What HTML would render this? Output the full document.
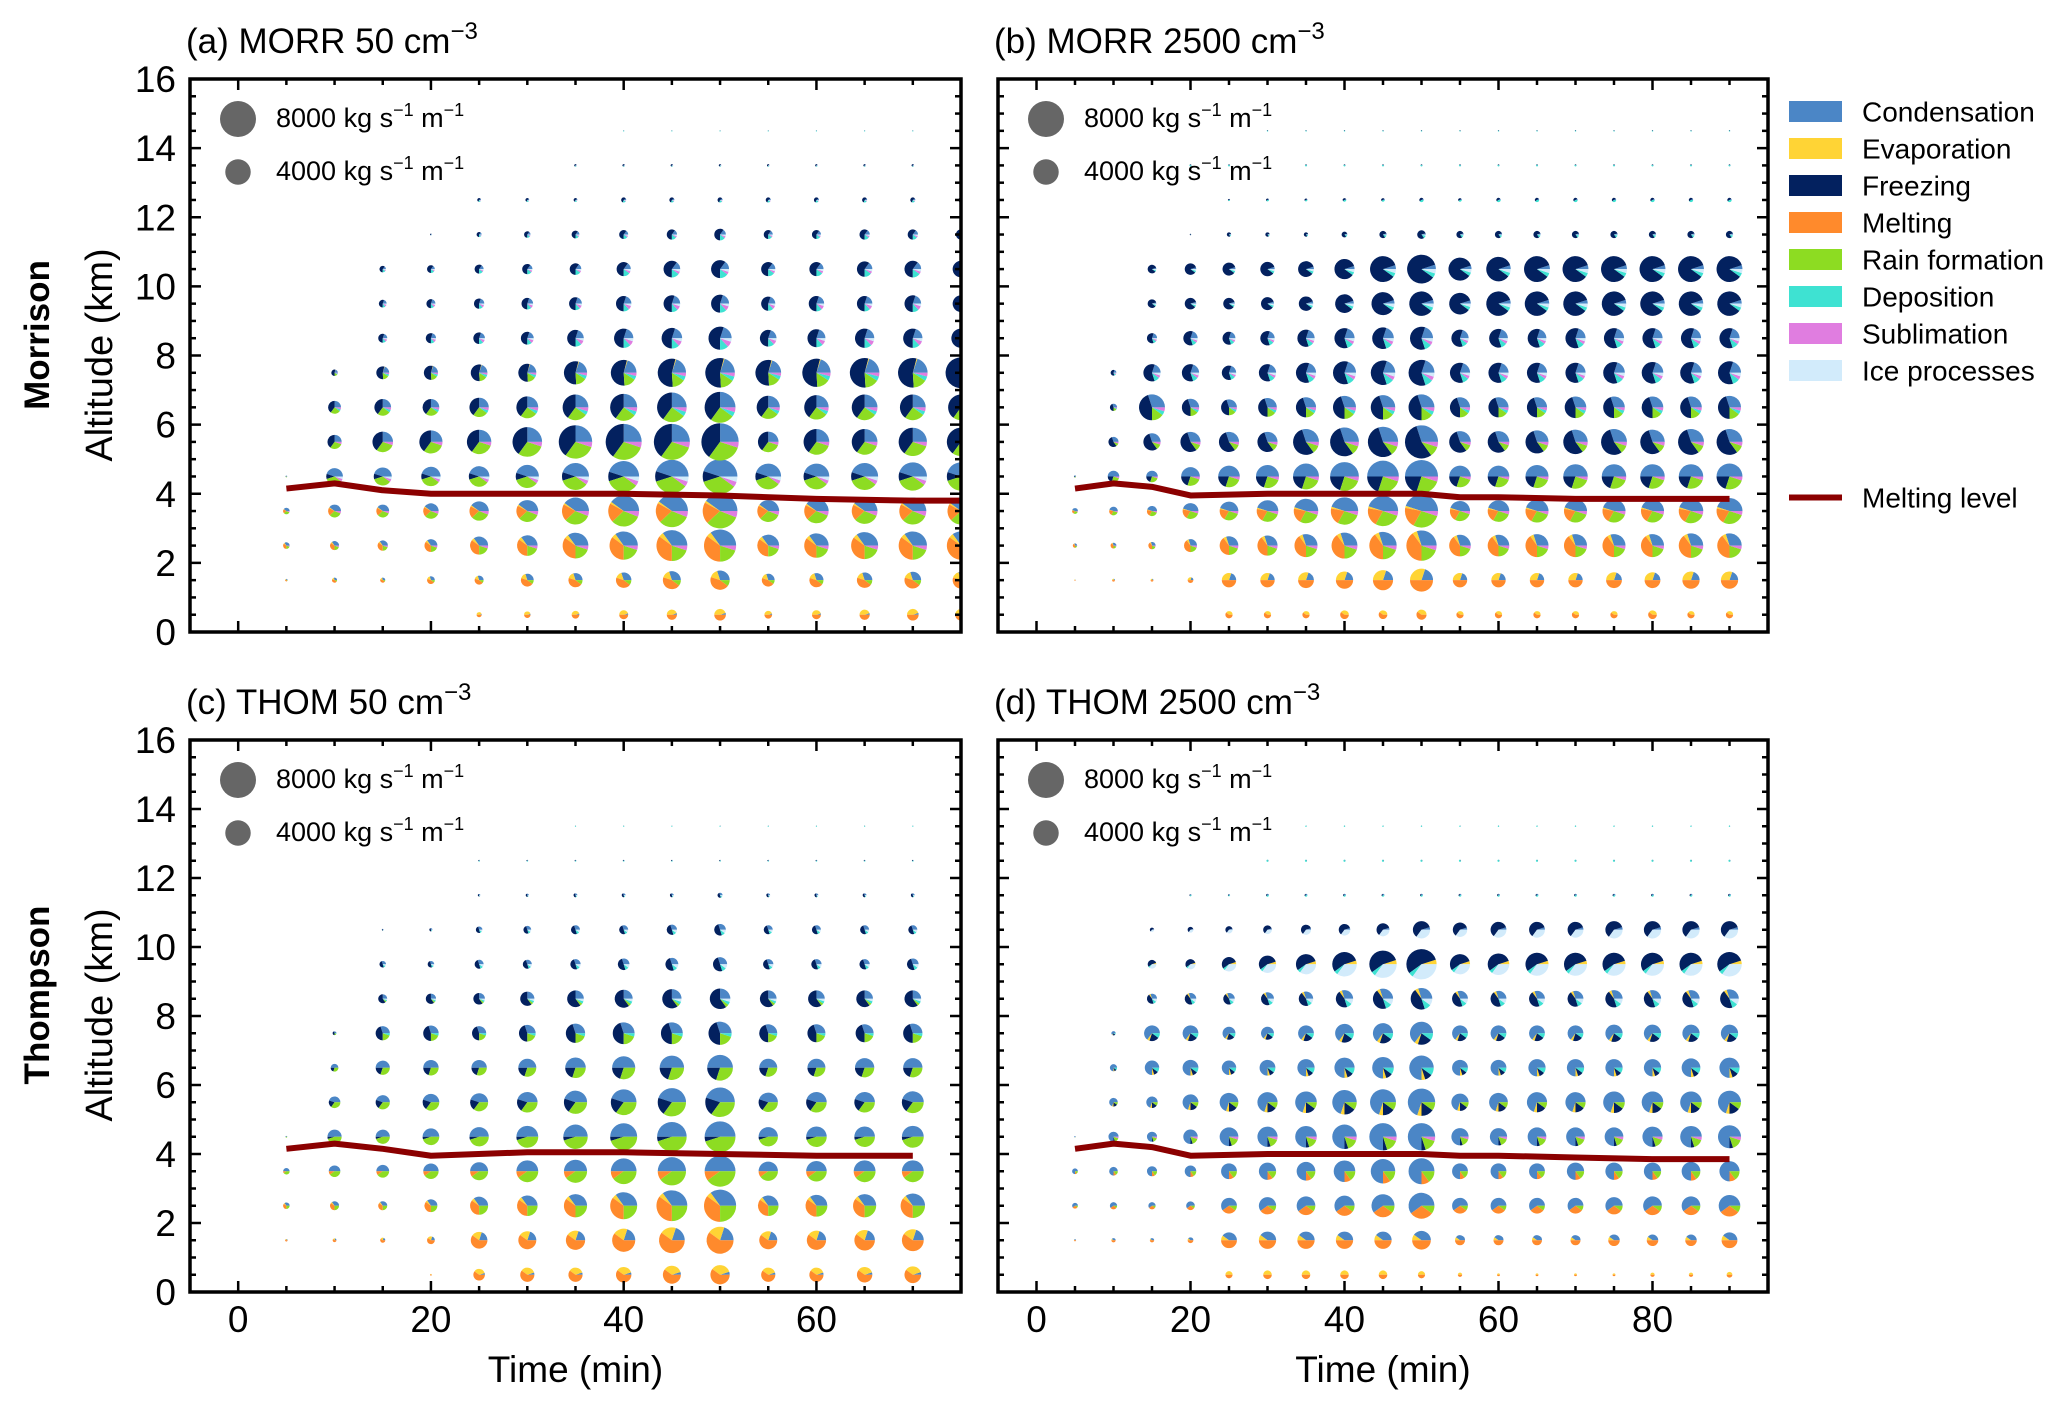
<!DOCTYPE html>
<html><head><meta charset="utf-8"><style>
html,body{margin:0;padding:0;background:#fff;}
svg text{font-family:"Liberation Sans",sans-serif;fill:#000;}
</style></head><body>
<svg id="fig" width="2067" height="1405" viewBox="0 0 2067 1405" xmlns="http://www.w3.org/2000/svg">
<defs></defs>
</svg>
<script>
// ---- data ----
const levels = [0.5,1.5,2.5,3.5,4.5,5.5,6.5,7.5,8.5,9.5,10.5,11.5,12.5,13.5,14.5];
const categories = ["Condensation","Evaporation","Freezing","Melting","Rain formation","Deposition","Sublimation","Ice processes"];
const catColors = ["#4b86c6","#ffd435","#03215f","#ff8a2c","#8ddc22","#3ee2d2","#e07de0","#d2ebfb"];
const timesA = [5,10,15,20,25,30,35,40,45,50,55,60,65,70,75];
const timesB = [5,10,15,20,25,30,35,40,45,50,55,60,65,70,75,80,85,90];
const timesC = [5,10,15,20,25,30,35,40,45,50,55,60,65,70];
const timesD = timesB;
// process magnitude (kg s-1 m-1), rows = levels
const magA = [
[0,0,0,0,160,260,370,500,650,830,370,500,650,830,830],
[40,160,160,370,500,1020,1240,1470,2000,2300,1020,1240,1470,1720,1720],
[260,500,650,1020,2000,2610,4080,4940,5880,6380,2950,3680,4500,4940,4940],
[260,1020,1020,1470,2300,2950,4500,5880,6380,7440,2950,3680,4080,4500,4500],
[20,1720,2000,2300,2610,3310,4500,5880,6900,7440,4080,4080,4500,4940,4940],
[0,1240,2610,3310,3680,5400,6900,8000,8000,8580,2610,4080,4080,4940,4940],
[0,1020,1720,1720,2300,2950,4080,4500,5400,5880,3310,3680,4080,4080,4080],
[0,260,1020,1240,1720,2000,3310,4080,4940,5400,4080,4940,5400,5400,5880],
[0,0,500,650,830,1020,1720,2300,2610,3310,1720,2000,2300,2300,2300],
[0,0,370,500,650,830,1020,1470,1720,2000,1240,1470,1470,1720,1720],
[0,0,260,370,500,650,830,1240,1720,2000,1240,1240,1470,1720,1720],
[0,0,0,20,160,260,370,500,650,830,500,500,650,650,650],
[0,0,0,0,90,90,90,160,160,160,160,160,160,160,160],
[0,0,0,0,0,0,40,40,40,40,40,40,40,40,40],
[0,0,0,0,0,0,0,10,10,10,10,10,10,10,10]];
const magB = [
[0,0,0,0,320,320,320,460,460,630,320,320,320,320,320,460,320,320],
[13,51,51,205,1280,1280,1550,1840,2510,3280,1280,1280,1280,1280,1550,1550,1840,1840],
[115,205,320,1040,2160,2510,3280,4150,4620,5650,2880,2880,3280,3280,3280,3280,3700,3700],
[205,460,630,1550,2160,2880,3700,4620,5650,6770,2510,2880,3280,3280,3280,3280,3700,4150],
[29,820,820,2160,2880,3280,4150,5120,6200,6770,2880,2880,3280,3700,3700,3700,3700,4150],
[0,630,1840,2510,2510,2510,4150,5120,5650,6770,2880,2880,3280,3700,4150,3700,4150,4150],
[0,320,4150,1840,1550,2160,2510,3280,3700,4150,2510,2510,2510,2880,2880,2880,2880,3280],
[0,205,1840,1840,1280,1840,2510,3280,3700,4150,2510,2510,2510,2510,2880,2880,2880,3280],
[0,0,630,1280,1040,1280,1840,2510,2880,3280,1840,2160,2160,2510,2510,2510,2510,2510],
[0,0,460,820,820,1040,1280,2160,3280,3700,2880,3700,3700,3700,3700,3700,3700,3700],
[0,0,460,820,1040,1280,1550,2510,4150,5120,3280,3700,4150,4150,4150,4150,4150,4150],
[0,0,0,13,115,115,115,205,320,460,320,320,320,320,320,320,320,320],
[0,0,0,0,29,51,51,80,80,115,80,115,115,115,115,115,115,115],
[0,0,0,29,29,29,29,29,29,29,29,29,29,29,29,29,29,29],
[0,0,0,0,0,13,13,13,13,13,13,13,13,13,13,13,13,13]];
const magC = [
[0,0,0,20,830,1240,1240,1470,2000,2300,1240,1240,1470,1720],
[40,90,160,370,1720,2000,2300,3310,4080,4500,2000,2300,2610,2950],
[260,500,500,1020,2000,2610,3310,4500,5880,6380,2610,2950,3310,3680],
[260,830,1020,1470,2000,2950,3310,4080,4940,5880,2300,2610,2950,2950],
[20,1240,1240,1720,2300,2950,3680,4500,5400,5880,2300,2610,2610,2950],
[0,830,1240,1720,2000,2610,3310,4080,4940,5400,2300,2610,2610,2950],
[0,370,1240,1470,1470,2000,2610,3310,3680,4080,2000,2000,2300,2300],
[0,90,1240,1470,1240,1720,2300,2950,2950,3310,2000,2000,2000,2300],
[0,0,500,650,830,1240,1720,2000,2300,2610,1720,1720,1720,1720],
[0,0,260,260,500,500,650,830,1020,1240,650,650,650,830],
[0,0,20,60,260,370,500,500,650,830,500,500,500,500],
[0,0,0,0,40,60,90,90,90,160,90,90,90,90],
[0,0,0,0,20,20,20,20,20,20,20,20,20,20],
[0,0,0,0,0,0,10,10,10,10,10,10,10,10],
[0,0,0,0,0,0,0,0,0,0,0,0,0,0]];
const magD = [
[0,0,0,0,320,460,460,460,460,320,115,51,51,51,51,115,115,205],
[29,115,115,205,1550,1840,1840,1840,1840,2160,630,630,630,630,820,820,820,1550],
[205,320,320,460,1550,1840,2160,2510,3280,4150,1550,1550,1550,1550,1840,2160,2160,2880],
[205,460,630,820,1550,1840,2160,2880,3700,4150,1550,1550,1550,1840,1840,1840,2160,2510],
[13,630,630,1280,2160,2510,2880,3700,4620,4620,1840,1840,2160,2160,2160,2510,2880,3280],
[0,460,820,1550,2160,2510,2880,3700,4150,4620,1840,2160,2510,2510,2880,2880,2880,3280],
[0,320,1280,1550,1280,1550,1840,2510,2880,3700,1550,1550,1840,1840,1840,1840,2160,2510],
[0,115,1550,1550,1040,1040,1550,2160,2510,3280,1550,1550,1550,1550,1840,1840,1840,1840],
[0,0,630,820,820,1040,1280,1840,2510,2880,1550,1550,1550,1550,1840,1840,1840,2160],
[0,0,460,630,1280,1840,2510,3700,4620,5650,2510,2880,3280,3280,3280,3280,3280,3700],
[0,0,115,205,320,460,630,820,1040,1840,1280,1550,1550,1550,1840,1840,1840,1840],
[0,0,0,29,29,51,51,51,51,51,51,51,51,51,51,51,51,51],
[0,0,0,0,0,29,29,29,29,29,29,29,29,29,29,29,29,29],
[0,0,0,0,0,0,13,13,13,13,13,13,13,13,13,13,13,13],
[0,0,0,0,0,0,0,0,0,0,0,0,0,0,0,0,0,0]];
// composition fractions per level: [cond, evap, freez, melt, rain, depo, subl, ice]
const fracA = [
[0.05,0.45,0,0.5,0,0,0,0],[0.3,0.15,0,0.45,0.1,0,0,0],[0.35,0.05,0,0.35,0.2,0,0.05,0],
[0.4,0.02,0,0.2,0.32,0,0.06,0],[0.45,0,0.1,0,0.35,0,0.05,0.05],[0.25,0,0.4,0,0.3,0,0.05,0],
[0.25,0,0.4,0,0.25,0.05,0.05,0],[0.2,0.01,0.55,0,0.15,0.05,0.04,0],[0.2,0,0.55,0,0,0.12,0.08,0.05],
[0.2,0,0.55,0,0,0.12,0.08,0.05],[0.15,0,0.6,0,0,0.15,0.05,0.05],[0.15,0,0.6,0,0,0.15,0.05,0.05],
[0.1,0,0.6,0,0,0.2,0.05,0.05],[0.1,0,0.6,0,0,0.2,0.05,0.05],[0.2,0,0.2,0,0,0.6,0,0]];
const fracB = [
[0,0.4,0,0.6,0,0,0,0],[0.2,0.3,0,0.5,0,0,0,0],[0.3,0.05,0,0.4,0.2,0,0.05,0],
[0.45,0.02,0,0.2,0.28,0,0.05,0],[0.5,0,0.2,0,0.25,0,0.05,0],[0.3,0,0.55,0,0.1,0,0.05,0],
[0.3,0,0.45,0,0.15,0.05,0.05,0],[0.2,0,0.6,0,0,0.1,0.05,0.05],[0.2,0,0.6,0,0,0.1,0.05,0.05],
[0.05,0,0.85,0,0,0.05,0,0.05],[0.05,0,0.85,0,0,0.05,0,0.05],[0.05,0,0.8,0,0,0.1,0,0.05],
[0.1,0,0.5,0,0,0.4,0,0],[0.1,0,0.3,0,0,0.6,0,0],[0.1,0,0.3,0,0,0.6,0,0]];
const fracC = [
[0.05,0.35,0,0.6,0,0,0,0],[0.2,0.2,0,0.6,0,0,0,0],[0.35,0.05,0,0.35,0.25,0,0,0],
[0.5,0,0,0.1,0.4,0,0,0],[0.5,0,0.05,0,0.45,0,0,0],[0.45,0,0.2,0,0.35,0,0,0],
[0.5,0,0.2,0,0.3,0,0,0],[0.3,0,0.45,0,0.2,0.05,0,0],[0.25,0,0.6,0,0.05,0.05,0,0.05],
[0.3,0,0.5,0,0,0.1,0,0.1],[0.3,0,0.5,0,0,0.1,0,0.1],[0.3,0,0.5,0,0,0.1,0,0.1],
[0.2,0,0.4,0,0,0.4,0,0],[0.1,0,0.2,0,0,0.7,0,0],[0.1,0,0.2,0,0,0.7,0,0]];
const fracD = [
[0,0.5,0,0.5,0,0,0,0],[0.4,0.1,0,0.5,0,0,0,0],[0.6,0,0,0.3,0.1,0,0,0],
[0.75,0,0,0.1,0.15,0,0,0],[0.75,0,0.05,0,0.15,0,0.05,0],[0.7,0.05,0.15,0,0.1,0,0,0],
[0.75,0.05,0.1,0,0,0.1,0,0],[0.65,0.05,0.2,0,0,0.1,0,0],[0.3,0.05,0.45,0,0,0.1,0,0.1],
[0,0.05,0.55,0,0,0.05,0,0.35],[0.05,0,0.6,0,0,0,0,0.35],[0.3,0,0.3,0,0,0.4,0,0],
[0.1,0,0.1,0,0,0.8,0,0],[0.1,0,0.1,0,0,0.8,0,0],[0.1,0,0.1,0,0,0.8,0,0]];
// melting level (km)
const mlTimesA = [5,10,15,20,30,40,50,60,70,75];
const mlA = [4.15,4.3,4.1,4.0,4.0,4.0,3.95,3.85,3.8,3.8];
const mlTimesB = [5,10,15,20,30,40,50,55,60,70,80,90];
const mlB = [4.15,4.3,4.2,3.95,4.0,4.0,4.0,3.9,3.9,3.85,3.85,3.85];
const mlTimesC = [5,10,15,20,30,40,50,60,70];
const mlC = [4.15,4.3,4.15,3.95,4.05,4.05,4.0,3.95,3.95];
const mlTimesD = [5,10,15,20,30,40,50,55,60,70,80,90];
const mlD = [4.15,4.3,4.2,3.95,4.0,4.0,4.0,3.95,3.95,3.9,3.85,3.85];
const yTicks = [0,2,4,6,8,10,12,14,16];

// ---- drawing ----
const NS = "http://www.w3.org/2000/svg";
const svg = document.getElementById("fig");
function mk(tag, attrs, parent) {
  const e = document.createElementNS(NS, tag);
  for (const k in attrs) e.setAttribute(k, attrs[k]);
  (parent || svg).appendChild(e);
  return e;
}
const R8000 = 18;

function drawPanel(p) {
  const g = mk("g", {});
  
  
  const xs = t => p.L + (t - p.xmin) / (p.xmax - p.xmin) * (p.R - p.L);
  const ys = v => p.B - v / 16 * (p.B - p.T);
  const clip = mk("clipPath", {id: "clip-" + p.id}, svg.querySelector("defs"));
  mk("rect", {x: p.L, y: p.T, width: p.R - p.L, height: p.B - p.T}, clip);
  const plot = mk("g", {"clip-path": "url(#clip-" + p.id + ")"}, g);
  
  
  p.mag.forEach((row, i) => {
    row.forEach((v, j) => {
      if (v <= 0) return;
      const cx = xs(p.times[j]), cy = ys(levels[i]);
      const r = R8000 * Math.sqrt(v / 8000);
      const pg = mk("g", {}, plot);
      
      
      const fr = p.frac[i];
      const tot = fr.reduce((a, b) => a + b, 0);
      let a0 = 0;
      fr.forEach((f, k) => {
        if (f <= 0) return;
        const da = f / tot * 2 * Math.PI;
        const a1 = a0 + da;
        if (da >= 2 * Math.PI - 1e-6) {
          const c = mk("circle", {cx, cy, r, fill: catColors[k]}, pg);
          
          
        } else {
          const x0 = cx + r * Math.cos(a0), y0 = cy - r * Math.sin(a0);
          const x1 = cx + r * Math.cos(a1), y1 = cy - r * Math.sin(a1);
          const large = da > Math.PI ? 1 : 0;
          const s = mk("path", {d: `M${cx},${cy} L${x0},${y0} A${r},${r} 0 ${large} 0 ${x1},${y1} Z`, fill: catColors[k]}, pg);
          
          
        }
        a0 = a1;
      });
    });
  });
  const pts = p.mlT.map((t, k) => xs(t) + "," + ys(p.ml[k])).join(" ");
  const ml = mk("polyline", {points: pts, fill: "none", stroke: "#8b0000", "stroke-width": 6, "stroke-linejoin": "round"}, plot);
  
  
  const tk = mk("g", {stroke: "#000", "stroke-width": 2.5}, g);
  
  
  for (let t = 0; t <= p.xmax; t += 5) {
    const x = xs(t), len = t % 20 === 0 ? 11 : 6;
    mk("line", {x1: x, y1: p.B, x2: x, y2: p.B - len}, tk);
    mk("line", {x1: x, y1: p.T, x2: x, y2: p.T + len}, tk);
  }
  for (let v = 0; v <= 16; v += 0.5) {
    const y = ys(v), len = v % 2 === 0 ? 11 : 6;
    mk("line", {x1: p.L, y1: y, x2: p.L + len, y2: y}, tk);
    mk("line", {x1: p.R, y1: y, x2: p.R - len, y2: y}, tk);
  }
  const fr = mk("rect", {x: p.L, y: p.T, width: p.R - p.L, height: p.B - p.T, fill: "none", stroke: "#000", "stroke-width": 3.5}, g);
  
  
  if (p.ylabels) {
    yTicks.forEach(v => {
      const t = mk("text", {x: p.L - 14, y: ys(v) + 13, "text-anchor": "end", "font-size": 37}, g);
      t.textContent = v;
      
      
    });
  }
  if (p.xlabels) {
    for (let t = 0; t <= p.xmax; t += 20) {
      const tl = mk("text", {x: xs(t), y: p.B + 40, "text-anchor": "middle", "font-size": 37}, g);
      tl.textContent = t;
      
      
    }
    const xl = mk("text", {x: (p.L + p.R) / 2, y: p.B + 90, "text-anchor": "middle", "font-size": 37}, g);
    xl.textContent = "Time (min)";
    
    
  }
  const ti = mk("text", {x: p.L - 4, y: p.T - 26, "font-size": 35}, g);
  
  
  ti.appendChild(document.createTextNode(p.title + " cm"));
  const sup = mk("tspan", {dy: -14, "font-size": 24}, ti);
  sup.textContent = "\u22123";
  [[8000, 40], [4000, 93]].forEach(([v, dy]) => {
    const c = mk("circle", {cx: p.L + 48, cy: p.T + dy, r: R8000 * Math.sqrt(v / 8000), fill: "#666"}, g);
    
    
    const t = mk("text", {x: p.L + 86, y: p.T + dy + 8, "font-size": 27}, g);
    
    
    t.appendChild(document.createTextNode(v + " kg s"));
    const s1 = mk("tspan", {dy: -11, "font-size": 18}, t); s1.textContent = "\u22121";
    const m = mk("tspan", {dy: 11}, t); m.textContent = " m";
    const s2 = mk("tspan", {dy: -11, "font-size": 18}, t); s2.textContent = "\u22121";
  });
}

const panels = [
 {id: "a", title: "(a)  MORR 50", L: 190, R: 961, T: 79, B: 632, xmin: -5, xmax: 75, times: timesA, mag: magA, frac: fracA, mlT: mlTimesA, ml: mlA, xlabels: false, ylabels: true},
 {id: "b", title: "(b)  MORR 2500", L: 998, R: 1768, T: 79, B: 632, xmin: -5, xmax: 95, times: timesB, mag: magB, frac: fracB, mlT: mlTimesB, ml: mlB, xlabels: false, ylabels: false},
 {id: "c", title: "(c)  THOM 50", L: 190, R: 961, T: 740, B: 1292, xmin: -5, xmax: 75, times: timesC, mag: magC, frac: fracC, mlT: mlTimesC, ml: mlC, xlabels: true, ylabels: true},
 {id: "d", title: "(d)  THOM 2500", L: 998, R: 1768, T: 740, B: 1292, xmin: -5, xmax: 95, times: timesD, mag: magD, frac: fracD, mlT: mlTimesD, ml: mlD, xlabels: true, ylabels: false}
];
panels.forEach(drawPanel);

[["Morrison", 335, 355], ["Thompson", 995, 1015]].forEach(([name, yc, ya]) => {
  const t = mk("text", {x: 0, y: 0, "text-anchor": "middle", "font-size": 35, "font-weight": "bold", transform: `translate(49,${yc}) rotate(-90)`});
  t.textContent = name;
  
  
  const a = mk("text", {x: 0, y: 0, "text-anchor": "middle", "font-size": 38, transform: `translate(112,${ya}) rotate(-90)`});
  a.textContent = "Altitude (km)";
  
  
});

const lg = mk("g", {});


categories.forEach((c, k) => {
  const y = 111.5 + k * 37;
  const r = mk("rect", {x: 1789, y: y - 10.5, width: 53, height: 21, fill: catColors[k]}, lg);
  
  
  const t = mk("text", {x: 1862, y: y + 10, "font-size": 28}, lg);
  t.textContent = c;
  
  
});
const ll = mk("line", {x1: 1789, y1: 497.5, x2: 1842, y2: 497.5, stroke: "#8b0000", "stroke-width": 6}, lg);


const lt = mk("text", {x: 1862, y: 507.5, "font-size": 28}, lg);
lt.textContent = "Melting level";


</script>
</body></html>
